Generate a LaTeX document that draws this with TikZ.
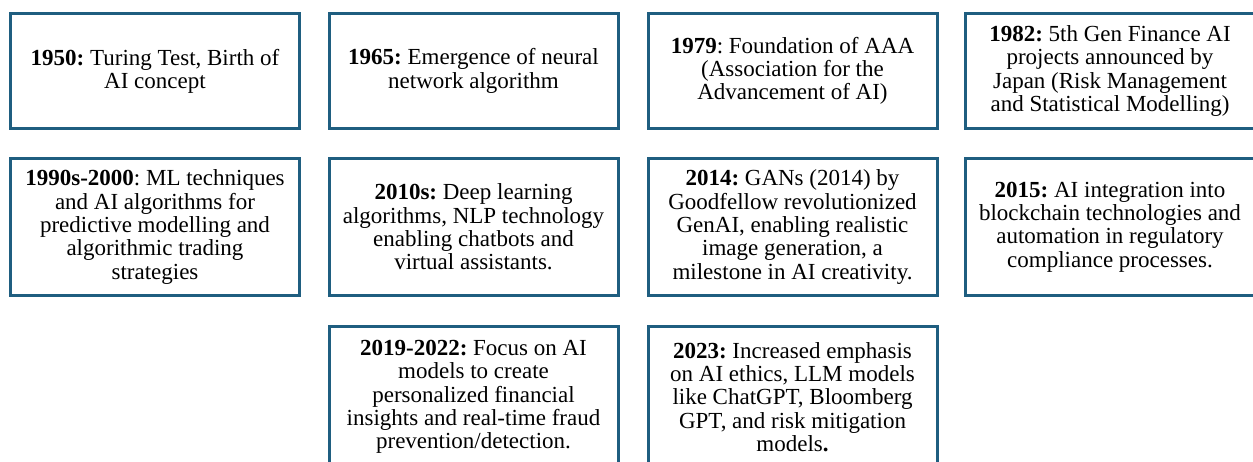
\documentclass[tikz,border=0pt]{standalone}
\usepackage{fontspec}
\newfontfamily\evfont{Liberation Serif}
\definecolor{boxline}{RGB}{31,94,128}
\tikzset{
  event/.style={draw=boxline, line width=3pt, fill=white, align=center,
    minimum width=289pt, inner sep=0pt,
    font=\fontsize{23}{23.3}\evfont\frenchspacing},
}
\begin{document}
\begin{tikzpicture}[x=1pt,y=-1pt]
\useasboundingbox (0,0) rectangle (1253,461);
\clip (0,0) rectangle (1253,461);
% first row
\node[event, minimum height=115pt] (e1950) at (155,71)
  {\textbf{1950:} Turing Test, Birth of\\AI concept};
\node[event, minimum height=115pt] (e1965) at (473.5,71)
  {\textbf{1965:} Emergence of neural\\network algorithm};
\node[event, minimum height=115pt] (e1979) at (792.5,71)
  {\textbf{1979}: Foundation of AAA\\(Association for the\\Advancement of AI)};
\node[event, minimum height=115pt] (e1982) at (1110,71)
  {\textbf{1982:} 5th Gen Finance AI\\projects announced by\\Japan (Risk Management\\and Statistical Modelling)};
% second row
\node[event, minimum height=137pt] (e1990) at (155,227)
  {\textbf{1990s-2000}: ML techniques\\and AI algorithms for\\predictive modelling and\\algorithmic trading\\strategies};
\node[event, minimum height=137pt] (e2010) at (473.5,227)
  {\textbf{2010s:} Deep learning\\algorithms, NLP technology\\enabling chatbots and\\virtual assistants.};
\node[event, minimum height=137pt] (e2014) at (792.5,227)
  {\textbf{2014:} GANs (2014) by\\Goodfellow revolutionized\\GenAI, enabling realistic\\image generation, a\\milestone in AI creativity.};
\node[event, minimum height=137pt] (e2015) at (1110,227)
  {\textbf{2015:} AI integration into\\blockchain technologies and\\automation in regulatory\\compliance processes.};
% third row
\node[event, minimum height=141pt] (e2019) at (473.5,397)
  {\textbf{2019-2022:} Focus on AI\\models to create\\personalized financial\\insights and real-time fraud\\prevention/detection.};
\node[event, minimum height=141pt] (e2023) at (792.5,397)
  {\textbf{2023:} Increased emphasis\\on AI ethics, LLM models\\like ChatGPT, Bloomberg\\GPT, and risk mitigation\\models\textbf{.}};
\end{tikzpicture}
\end{document}
